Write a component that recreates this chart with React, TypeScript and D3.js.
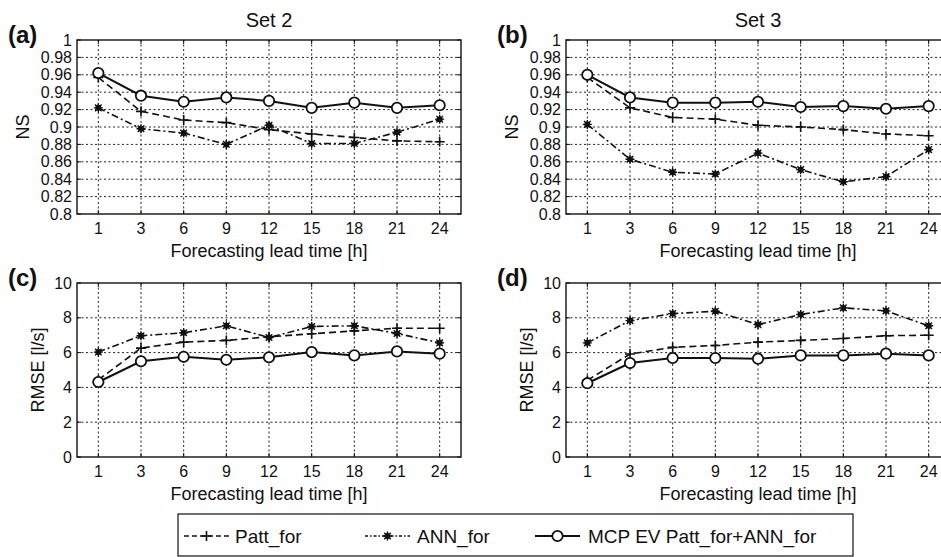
import React from 'react';
import * as d3 from 'd3';

const leadTimes = ['1', '3', '6', '9', '12', '15', '18', '21', '24'];
const seriesNames = ['Patt_for', 'ANN_for', 'MCP EV Patt_for+ANN_for'];

const nsSet2Patt = [0.957, 0.918, 0.908, 0.905, 0.897, 0.892, 0.888, 0.884, 0.883];
const nsSet2Ann = [0.922, 0.898, 0.893, 0.880, 0.902, 0.881, 0.881, 0.894, 0.909];
const nsSet2Mcp = [0.962, 0.936, 0.929, 0.934, 0.930, 0.922, 0.928, 0.922, 0.925];

const nsSet3Patt = [0.957, 0.922, 0.911, 0.909, 0.902, 0.900, 0.897, 0.892, 0.890];
const nsSet3Ann = [0.903, 0.863, 0.848, 0.846, 0.870, 0.851, 0.837, 0.843, 0.874];
const nsSet3Mcp = [0.960, 0.934, 0.928, 0.928, 0.929, 0.923, 0.924, 0.921, 0.924];

const rmseSet2Patt = [4.43, 6.26, 6.60, 6.70, 6.91, 7.08, 7.25, 7.40, 7.40];
const rmseSet2Ann = [6.03, 6.97, 7.14, 7.54, 6.87, 7.50, 7.54, 7.10, 6.56];
const rmseSet2Mcp = [4.31, 5.50, 5.76, 5.59, 5.73, 6.03, 5.84, 6.07, 5.94];

const rmseSet3Patt = [4.41, 5.92, 6.30, 6.41, 6.60, 6.70, 6.81, 6.97, 7.00];
const rmseSet3Ann = [6.56, 7.84, 8.24, 8.38, 7.61, 8.19, 8.57, 8.40, 7.54];
const rmseSet3Mcp = [4.24, 5.40, 5.69, 5.69, 5.65, 5.84, 5.84, 5.94, 5.84];

const nsTicks = [0.8, 0.82, 0.84, 0.86, 0.88, 0.9, 0.92, 0.94, 0.96, 0.98, 1];
const rmseTicks = [0, 2, 4, 6, 8, 10];

const FONT = 'Liberation Sans, Arial, Helvetica, sans-serif';
const PW = 384;
const PH = 174;

type Style = { dash: string; width: number; marker: 'plus' | 'star' | 'circle' };
const styles: Style[] = [
  { dash: '7,4', width: 1.6, marker: 'plus' },
  { dash: '7,3,2,3', width: 1.6, marker: 'star' },
  { dash: 'none', width: 2, marker: 'circle' },
];

function Marker({ kind, x, y }: { kind: string; x: number; y: number }) {
  if (kind === 'circle') {
    return <circle cx={x} cy={y} r={5.2} fill="white" stroke="#111" strokeWidth={1.8} />;
  }
  if (kind === 'plus') {
    return (
      <path d={`M${x - 5},${y}H${x + 5}M${x},${y - 5}V${y + 5}`} stroke="#111" strokeWidth={1.6} fill="none" />
    );
  }
  return (
    <g>
      <circle cx={x} cy={y} r={3} fill="#111" />
      <path
        d={`M${x - 4.5},${y}H${x + 4.5}M${x},${y - 4.5}V${y + 4.5}M${x - 3.3},${y - 3.3}L${x + 3.3},${y + 3.3}M${x - 3.3},${y + 3.3}L${x + 3.3},${y - 3.3}`}
        stroke="#111"
        strokeWidth={1.4}
        fill="none"
      />
    </g>
  );
}

function fmt(v: number) {
  return String(+v.toFixed(2));
}

function Panel(props: {
  left: number;
  top: number;
  yDomain: [number, number];
  yTicks: number[];
  yLabel: string;
  yLabelOffset: number;
  tag: string;
  title?: string;
  data: number[][];
}) {
  const { left, top, yDomain, yTicks, yLabel, yLabelOffset, tag, title, data } = props;
  const x = d3.scalePoint<string>().domain(leadTimes).range([0, PW]).padding(0.5);
  const y = d3.scaleLinear().domain(yDomain).range([PH, 0]);
  const line = d3
    .line<number>()
    .x((_, i) => x(leadTimes[i]) as number)
    .y((d) => y(d));

  return (
    <g transform={`translate(${left},${top})`}>
      {title && (
        <text x={PW / 2} y={-13} textAnchor="middle" fontSize={20} fontFamily={FONT} fill="#111">
          {title}
        </text>
      )}
      <text x={-69} y={3} fontSize={24} fontWeight="bold" fontFamily={FONT} fill="#111">
        {tag}
      </text>
      <rect x={0} y={0} width={PW} height={PH} fill="white" />
      {/* grid */}
      {leadTimes.map((t) => (
        <line key={'gx' + t} x1={x(t)} x2={x(t)} y1={0} y2={PH} stroke="#222" strokeWidth={1} strokeDasharray="2,2.5" />
      ))}
      {yTicks.slice(1, -1).map((v) => (
        <line key={'gy' + v} x1={0} x2={PW} y1={y(v)} y2={y(v)} stroke="#222" strokeWidth={1} strokeDasharray="2,2.5" />
      ))}
      {/* axes box */}
      <rect x={0} y={0} width={PW} height={PH} fill="none" stroke="#111" strokeWidth={1.4} />
      {/* ticks */}
      {leadTimes.map((t) => (
        <g key={'tx' + t}>
          <line x1={x(t)} x2={x(t)} y1={PH} y2={PH - 4} stroke="#111" />
          <line x1={x(t)} x2={x(t)} y1={0} y2={4} stroke="#111" />
          <text x={x(t)} y={PH + 20} textAnchor="middle" fontSize={16} fontFamily={FONT} fill="#111">
            {t}
          </text>
        </g>
      ))}
      {yTicks.map((v) => (
        <g key={'ty' + v}>
          <line x1={0} x2={4} y1={y(v)} y2={y(v)} stroke="#111" />
          <line x1={PW} x2={PW - 4} y1={y(v)} y2={y(v)} stroke="#111" />
          <text x={-5} y={y(v)} dy="0.35em" textAnchor="end" fontSize={16} fontFamily={FONT} fill="#111">
            {fmt(v)}
          </text>
        </g>
      ))}
      <text x={PW / 2} y={PH + 43} textAnchor="middle" fontSize={18} fontFamily={FONT} fill="#111">
        Forecasting lead time [h]
      </text>
      <text
        transform={`translate(${yLabelOffset},${PH / 2}) rotate(-90)`}
        textAnchor="middle"
        dy="0.35em"
        fontSize={18}
        fontFamily={FONT}
        fill="#111"
      >
        {yLabel}
      </text>
      {/* series */}
      {data.map((vals, si) => (
        <g key={'s' + si}>
          <path
            d={line(vals) || ''}
            fill="none"
            stroke="#111"
            strokeWidth={styles[si].width}
            strokeDasharray={styles[si].dash}
          />
        </g>
      ))}
      {data.map((vals, si) =>
        vals.map((v, i) => <Marker key={`m${si}-${i}`} kind={styles[si].marker} x={x(leadTimes[i]) as number} y={y(v)} />)
      )}
    </g>
  );
}

function Legend() {
  const top = 514;
  const bx = 178;
  const bw = 675;
  const bh = 42;
  const cy = top + 22;
  const entries = [
    { x0: 184, text: 235 },
    { x0: 365, text: 417 },
    { x0: 535, text: 588 },
  ];
  return (
    <g>
      <rect x={bx} y={top} width={bw} height={bh} fill="white" stroke="#111" strokeWidth={1.2} />
      {entries.map((e, i) => (
        <g key={'lg' + i}>
          <line
            x1={e.x0}
            x2={e.x0 + 45}
            y1={cy}
            y2={cy}
            stroke="#111"
            strokeWidth={styles[i].width}
            strokeDasharray={i === 0 ? '5,3' : i === 1 ? '3,2,1.5,2' : 'none'}
          />
          <Marker kind={styles[i].marker} x={e.x0 + 22.5} y={cy} />
          <text x={e.text} y={cy} dy="0.35em" fontSize={19} fontFamily={FONT} fill="#111">
            {seriesNames[i]}
          </text>
        </g>
      ))}
    </g>
  );
}

export default function App() {
  return (
    <svg
      width={941}
      height={557}
      style={{ position: 'absolute', left: 0, top: 0, background: 'white' }}
      xmlns="http://www.w3.org/2000/svg"
    >
      <rect x={0} y={0} width={941} height={557} fill="white" />
      <Panel left={77} top={40} yDomain={[0.8, 1]} yTicks={nsTicks} yLabel="NS" yLabelOffset={-54} tag="(a)" title="Set 2" data={[nsSet2Patt, nsSet2Ann, nsSet2Mcp]} />
      <Panel left={566} top={40} yDomain={[0.8, 1]} yTicks={nsTicks} yLabel="NS" yLabelOffset={-54} tag="(b)" title="Set 3" data={[nsSet3Patt, nsSet3Ann, nsSet3Mcp]} />
      <Panel left={77} top={283} yDomain={[0, 10]} yTicks={rmseTicks} yLabel="RMSE [l/s]" yLabelOffset={-39} tag="(c)" data={[rmseSet2Patt, rmseSet2Ann, rmseSet2Mcp]} />
      <Panel left={566} top={283} yDomain={[0, 10]} yTicks={rmseTicks} yLabel="RMSE [l/s]" yLabelOffset={-39} tag="(d)" data={[rmseSet3Patt, rmseSet3Ann, rmseSet3Mcp]} />
      <Legend />
    </svg>
  );
}
